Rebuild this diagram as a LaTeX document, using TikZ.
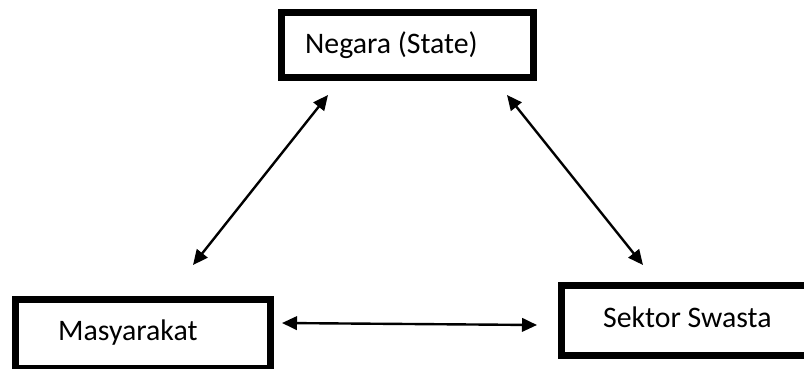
\documentclass[tikz,border=0pt]{standalone}
\usepackage{fontspec}
\setmainfont{Carlito}
\usetikzlibrary{arrows.meta}
\begin{document}
\begin{tikzpicture}[x=1pt,y=-1pt,
  boxstyle/.style={draw=black,line width=7pt,fill=white,inner sep=0pt,outer sep=0pt},
  label/.style={anchor=base west,inner sep=0pt,font=\fontsize{29.8}{34}\selectfont},
  link/.style={line width=2.4pt,{Triangle[length=15pt,width=13.5pt]}-{Triangle[length=15pt,width=13.5pt]}}]
\useasboundingbox (0,0) rectangle (804,368);
\clip (0,0) rectangle (804,368);
\fill[white] (0,0) rectangle (804,368);
% boxes
\node[boxstyle,minimum width=252pt,minimum height=65pt] (state) at (407.5,45) {};
\node[boxstyle,minimum width=255pt,minimum height=68.5pt] (civil) at (142.5,334) {};
\node[boxstyle,minimum width=300pt,minimum height=70pt] (private) at (711.5,320.5) {};
% texts
\node[label] (statetext) at (305,53) {Negara (State)};
\node[label] (civiltext) at (58,340) {Masyarakat};
\node[label] (privatetext) at (603,327) {Sektor Swasta};
% arrow ends
\coordinate (sL) at (328,95);
\coordinate (cT) at (193,265);
\coordinate (sR) at (507,95);
\coordinate (pT) at (643,265);
\coordinate (cR) at (282,323);
\coordinate (pL) at (537,325);
\draw[link] (sL) -- (cT);
\draw[link] (sR) -- (pT);
\draw[link] (cR) -- (pL);
\end{tikzpicture}
\end{document}
